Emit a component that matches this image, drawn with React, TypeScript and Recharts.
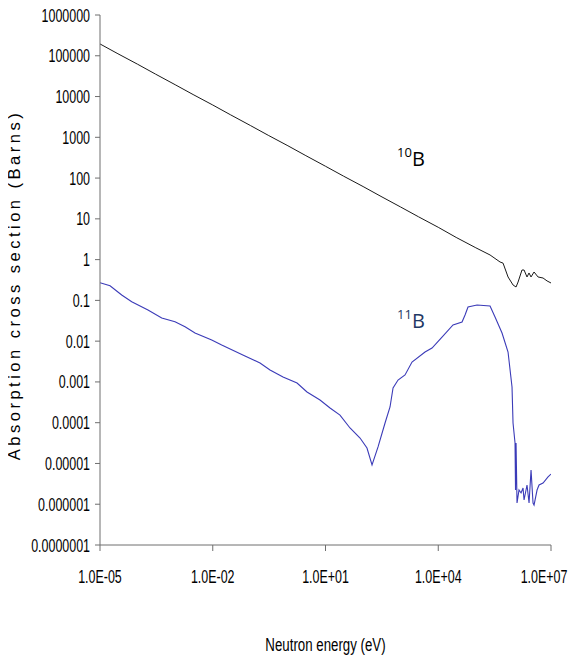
import React from 'react';
import { LineChart, Line, XAxis, YAxis, ReferenceDot } from 'recharts';

// Neutron energy (eV) and absorption cross section (barns) for boron-10
const b10Energy = [
  1e-5, 3e-5, 1e-4, 3e-4, 1e-3, 3e-3, 1e-2, 3e-2, 1e-1, 3e-1, 1, 3, 10, 30, 100, 300,
  1000, 3000, 1e4, 3e4, 1e5, 2.39e5, 4.4e5, 5.3e5, 7.2e5, 9.8e5, 1.175e6, 1.33e6,
  1.69e6, 1.92e6, 2.3e6, 2.6e6, 2.94e6, 3.54e6, 4.52e6, 6.14e6, 7.85e6, 1e7,
];
const b10Sigma = [
  195000, 112000, 62000, 35500, 19500, 11200, 6200, 3550, 1950, 1120, 620, 355, 195,
  112, 62, 35.5, 19.5, 11.2, 6.2, 3.5, 1.95, 1.3, 0.875, 0.82, 0.375, 0.238, 0.213,
  0.282, 0.556, 0.556, 0.375, 0.47, 0.375, 0.497, 0.375, 0.354, 0.3, 0.267,
];

// Neutron energy (eV) and absorption cross section (barns) for boron-11
const b11Energy = [
  1e-5, 1.85e-5, 3.78e-5, 6.98e-5, 1.89e-4, 4.39e-4, 9.9e-4, 1.83e-3, 3.37e-3, 9.4e-3,
  1.73e-2, 7.2e-2, 0.181, 0.334, 0.741, 1.75, 3.22, 7.14, 13.2, 24.3, 44.9, 83, 127,
  173, 250, 384, 521, 627, 851, 1306, 2004, 4446, 6823, 12590, 24720, 42950, 51640,
  61940, 107700, 238800, 324300, 497700, 719400, 918300, 977000, 1.104e6, 1.138e6,
  1.175e6, 1.247e6, 1.409e6, 1.596e6, 1.803e6, 1.919e6, 2.301e6, 2.606e6, 2.944e6,
  3.327e6, 3.54e6, 4.256e6, 4.808e6, 6.138e6, 8.337e6, 1e7,
];
const b11Sigma = [
  0.272, 0.229, 0.1355, 0.0929, 0.0581, 0.037, 0.03, 0.0226, 0.0158, 0.01067, 0.00805,
  0.00433, 0.00291, 0.00196, 0.00132, 0.000942, 0.000566, 0.00036, 0.000229, 0.000154,
  7.41e-5, 4.21e-5, 2.39e-5, 9.16e-6, 2.54e-5, 9.83e-5, 2.43e-4, 7.1e-4, 1.11e-3,
  1.48e-3, 3.08e-3, 5.42e-3, 6.79e-3, 1.26e-2, 2.49e-2, 2.95e-2, 4.38e-2, 6.88e-2,
  7.71e-2, 7.28e-2, 3.91e-2, 1.58e-2, 5.42e-3, 7.52e-4, 9.84e-5, 3.18e-5, 2.23e-6,
  3.18e-5, 1.07e-6, 2.23e-6, 1.89e-6, 2.5e-6, 1.27e-6, 2.96e-6, 1.07e-6, 6.92e-6,
  1.07e-6, 9.57e-7, 2.23e-6, 2.96e-6, 3.32e-6, 4.66e-6, 5.5e-6,
];

const xTicks = [1e-5, 1e-2, 1e1, 1e4, 1e7];
const xTickLabels = ['1.0E-05', '1.0E-02', '1.0E+01', '1.0E+04', '1.0E+07'];
const yTicks = [1e-7, 1e-6, 1e-5, 1e-4, 1e-3, 1e-2, 1e-1, 1, 10, 100, 1000, 1e4, 1e5, 1e6];
const yTickLabels = [
  '0.0000001', '0.000001', '0.00001', '0.0001', '0.001', '0.01', '0.1', '1', '10', '100',
  '1000', '10000', '100000', '1000000',
];

const b10Data = b10Energy.map((e, i) => ({ e, s: b10Sigma[i] }));
const b11Data = b11Energy.map((e, i) => ({ e, s: b11Sigma[i] }));

const SANS = '"Liberation Sans", Arial, sans-serif';
const CALLOUT = '"Open Sans", "Noto Sans", sans-serif';
const AXIS_COLOR = '#6e6e6e';
// condensed, slightly tall lettering used for tick labels and the energy title
const CONDENSE = 'scale(0.83,1.2)';

const labelFor = (ticks: number[], labels: string[], v: number) => {
  const i = ticks.findIndex((t) => Math.abs(Math.log10(t) - Math.log10(v)) < 1e-6);
  return i >= 0 ? labels[i] : String(v);
};

const XTick = (props: any) => {
  const { x, y, payload } = props;
  return (
    <g transform={`translate(${x},${y + 30}) ${CONDENSE}`}>
      <text x={0} y={0} textAnchor="middle" fontSize={15} fontFamily={SANS} fill="#000">
        {labelFor(xTicks, xTickLabels, payload.value)}
      </text>
    </g>
  );
};

const YTick = (props: any) => {
  const { x, y, payload } = props;
  return (
    <g transform={`translate(${x},${y + 6.5}) ${CONDENSE}`}>
      <text x={0} y={0} textAnchor="end" fontSize={15} fontFamily={SANS} fill="#000">
        {labelFor(yTicks, yTickLabels, payload.value)}
      </text>
    </g>
  );
};

const XTitle = (props: any) => {
  const vb = props.viewBox;
  const cx = vb.x + vb.width / 2;
  return (
    <g transform={`translate(${cx},651) ${CONDENSE}`}>
      <text x={0} y={0} textAnchor="middle" fontSize={16} fontFamily={SANS} fill="#000">
        Neutron energy (eV)
      </text>
    </g>
  );
};

// rotated axis title; the baseline runs vertically at x = bx
const YTitle = () => {
  const bx = 20;
  const cy = 285;
  return (
    <text
      x={bx}
      y={cy}
      transform={`rotate(-90, ${bx}, ${cy})`}
      textAnchor="middle"
      fontSize={16.5}
      letterSpacing={3.5}
      fontFamily={SANS}
      fill="#000"
    >
      Absorption cross section (Barns)
    </text>
  );
};

const IsotopeLabel = (props: any) => {
  const { viewBox, mass, color } = props;
  const x = viewBox.x;
  const y = viewBox.y;
  return (
    <g>
      <text x={x} y={y - 9} fontSize={13} fontFamily={CALLOUT} fill={color}>
        {mass}
      </text>
      <text x={x + 15} y={y} fontSize={20} fontFamily={CALLOUT} fill={color}>
        B
      </text>
    </g>
  );
};

export default function App() {
  return (
    <div style={{ margin: '-8px 0 0 -8px', width: 576, height: 657 }}>
      <LineChart
        width={576}
        height={657}
        margin={{ top: 15, right: 25, bottom: 0, left: 0 }}
        style={{ background: '#fff' }}
      >
        <XAxis
          type="number"
          dataKey="e"
          scale="log"
          domain={[1e-5, 1e7]}
          ticks={xTicks}
          allowDataOverflow
          height={112}
          tickSize={6}
          tickMargin={2}
          stroke={AXIS_COLOR}
          tick={<XTick />}
          label={<XTitle />}
        />
        <YAxis
          type="number"
          dataKey="s"
          scale="log"
          domain={[1e-7, 1e6]}
          ticks={yTicks}
          allowDataOverflow
          width={100}
          tickSize={5}
          tickMargin={5}
          stroke={AXIS_COLOR}
          tick={<YTick />}
          label={<YTitle />}
        />
        <Line
          data={b10Data}
          dataKey="s"
          type="linear"
          stroke="#1a1a1a"
          strokeWidth={1}
          dot={false}
          activeDot={false}
          isAnimationActive={false}
        />
        <Line
          data={b11Data}
          dataKey="s"
          type="linear"
          stroke="#3b3bb8"
          strokeWidth={1.1}
          dot={false}
          activeDot={false}
          isAnimationActive={false}
        />
        <ReferenceDot
          x={800}
          y={198}
          r={0}
          ifOverflow="visible"
          label={<IsotopeLabel mass="10" color="#000" />}
        />
        <ReferenceDot
          x={800}
          y={0.021}
          r={0}
          ifOverflow="visible"
          label={<IsotopeLabel mass="11" color="#1f3864" />}
        />
      </LineChart>
    </div>
  );
}
